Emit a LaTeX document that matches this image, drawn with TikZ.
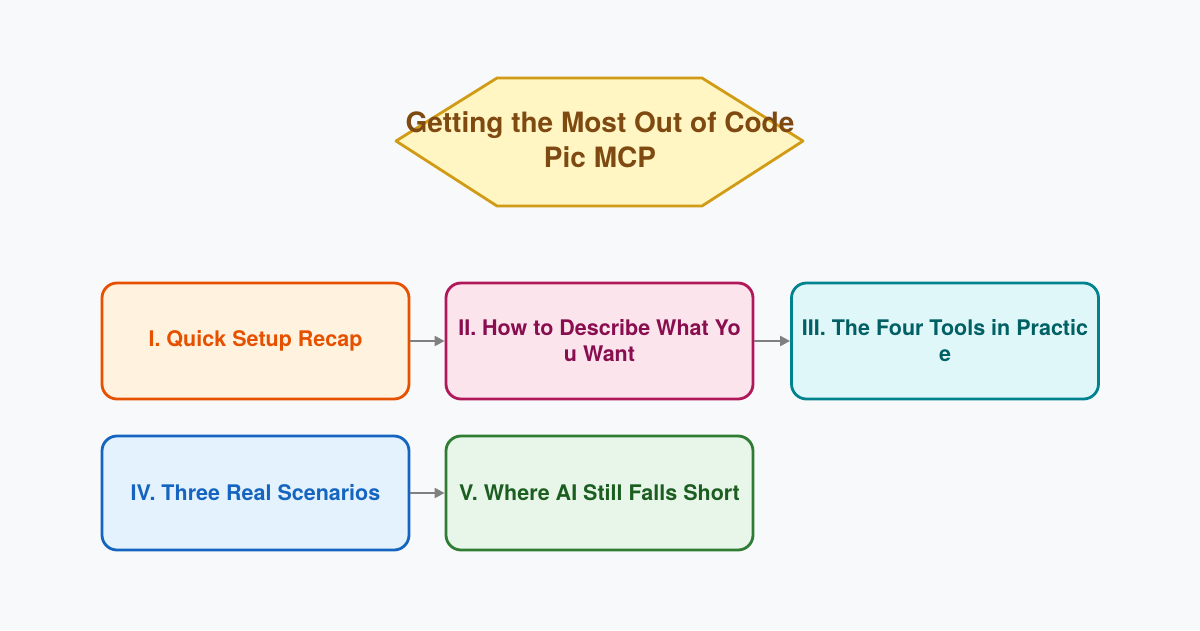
\documentclass[tikz,border=0pt]{standalone}
\usepackage{fontspec}
\setmainfont{TeX Gyre Heros}
\usetikzlibrary{arrows.meta}
\definecolor{bg}{HTML}{F8F9FA}
\definecolor{hexfill}{HTML}{FFF6C4}
\definecolor{hexdraw}{HTML}{D19B16}
\definecolor{hextext}{HTML}{7F4A12}
\definecolor{afill}{HTML}{FFF3E0}\definecolor{adraw}{HTML}{E65100}\definecolor{atext}{HTML}{E65100}
\definecolor{bfill}{HTML}{FCE4EC}\definecolor{bdraw}{HTML}{B0185A}\definecolor{btext}{HTML}{880E4F}
\definecolor{cfill}{HTML}{E0F7FA}\definecolor{cdraw}{HTML}{00838F}\definecolor{ctext}{HTML}{006064}
\definecolor{dfill}{HTML}{E3F2FD}\definecolor{ddraw}{HTML}{1565C0}\definecolor{dtext}{HTML}{1565C0}
\definecolor{efill}{HTML}{E8F5E9}\definecolor{edraw}{HTML}{2E7D32}\definecolor{etext}{HTML}{1B5E20}
\definecolor{arrowgray}{HTML}{808080}
\tikzset{
  sectionbox/.style={rectangle, rounded corners=15pt, line width=2.8pt,
    minimum width=307pt, minimum height=116pt, align=center,
    font=\bfseries\fontsize{21.5}{26}\selectfont, inner sep=0pt},
  flowarrow/.style={draw=arrowgray, line width=2.2pt, -{Triangle[length=10pt,width=10pt]}}
}
\begin{document}
\begin{tikzpicture}[x=1pt,y=-1pt]
\fill[bg] (0,0) rectangle (1200,630);
\useasboundingbox (0,0) rectangle (1200,630);
% title hexagon
\draw[fill=hexfill, draw=hexdraw, line width=2.8pt, line join=round]
  (497,78) -- (702,78) -- (803,141) -- (702,206) -- (497,206) -- (396,141) -- cycle;
\node[align=center, text=hextext, font=\bfseries\fontsize{28}{35}\selectfont] (title) at (600,140)
  {Getting the Most Out of Code\\Pic MCP};
% boxes
\node[sectionbox, fill=afill, draw=adraw, text=atext] (s1) at (255.5,341) {I. Quick Setup Recap};
\node[sectionbox, fill=bfill, draw=bdraw, text=btext] (s2) at (599.5,341) {II. How to Describe What Yo\\u Want};
\node[sectionbox, fill=cfill, draw=cdraw, text=ctext] (s3) at (945,341) {III. The Four Tools in Practic\\e};
\node[sectionbox, fill=dfill, draw=ddraw, text=dtext, minimum height=114pt] (s4) at (255.5,493) {IV. Three Real Scenarios};
\node[sectionbox, fill=efill, draw=edraw, text=etext, minimum height=114pt] (s5) at (599.5,493) {V. Where AI Still Falls Short};
% connectors
\draw[flowarrow] (s1.east) -- (s2.west);
\draw[flowarrow] (s2.east) -- (s3.west);
\draw[flowarrow] (s4.east) -- (s5.west);
\end{tikzpicture}
\end{document}
